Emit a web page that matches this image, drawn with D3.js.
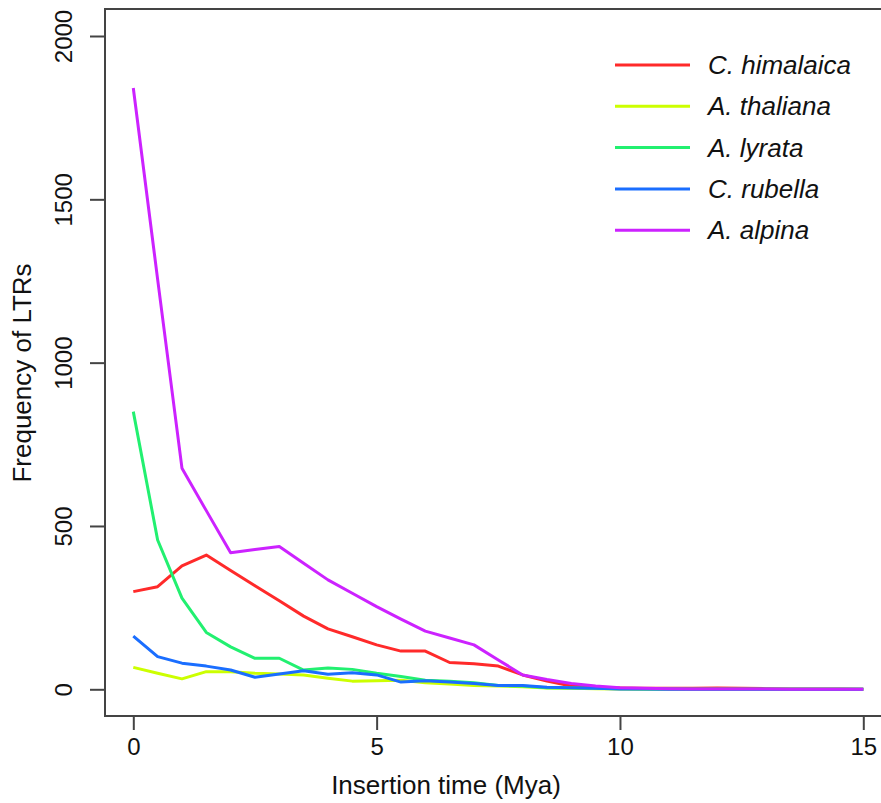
<!DOCTYPE html>
<html>
<head>
<meta charset="utf-8">
<script src="https://cdn.jsdelivr.net/npm/d3@7/dist/d3.min.js"></script>
<style>
  body { margin: 0; background: #fff; }
  svg { display: block; font-family: "Liberation Sans", Arial, sans-serif; }
  .tick text { font-size: 24px; fill: #111; }
  .tick line { stroke: #444; stroke-width: 2; }
</style>
</head>
<body>
<div id="chart"></div>
<script>
// insertion time bins (Mya)
var times = [0,0.5,1,1.5,2,2.5,3,3.5,4,4.5,5,5.5,6,6.5,7,7.5,8,8.5,9,9.5,10,10.5,11,11.5,12,12.5,13,13.5,14,14.5,15];

var species = ["C. himalaica", "A. thaliana", "A. lyrata", "C. rubella", "A. alpina"];
var colors  = ["#ff2a2a", "#ccff00", "#22f070", "#1a6eff", "#cc22ff"];

// LTR counts
var himalaica = [299,314,378,411,364,317,271,224,185,161,136,117,117,82,78,71,44,25,10,6,4,3,3,3,4,3,2,1,1,1,0];
var thaliana  = [67,49,32,54,54,49,47,44,34,25,26,28,20,16,12,10,8,4,3,2,1,0,0,0,0,0,0,0,0,0,0];
var lyrata    = [850,457,279,174,130,95,95,59,65,61,49,39,28,25,20,12,10,5,4,3,2,1,1,0,0,0,0,0,0,0,0];
var rubella   = [163,100,80,71,59,37,47,57,46,51,44,22,26,22,18,12,12,6,5,3,1,1,0,0,0,0,0,0,0,0,0];
var alpina    = [1841,1255,677,547,418,428,437,386,335,294,253,215,178,157,136,90,44,30,18,10,5,3,2,1,1,1,1,0,0,0,0];

var xTicks = [0,5,10,15];
var yTicks = [0,500,1000,1500,2000];

var series = [himalaica, thaliana, lyrata, rubella, alpina];

var width = 881, height = 803;
var box = {left: 105, top: 9, bottom: 716, right: 895};

var svg = d3.select("#chart").append("svg")
    .attr("width", width)
    .attr("height", height);

var x = d3.scaleLinear().domain([0, 15]).range([133.3, 863.3]);
var y = d3.scaleLinear().domain([0, 2000]).range([689.3, 36]);

// frame
svg.append("rect")
    .attr("x", box.left).attr("y", box.top)
    .attr("width", box.right - box.left).attr("height", box.bottom - box.top)
    .attr("fill", "none")
    .attr("stroke", "#444")
    .attr("stroke-width", 2);

// x axis
var gx = svg.append("g")
    .attr("transform", "translate(0," + box.bottom + ")")
    .call(d3.axisBottom(x).tickValues(xTicks).tickSize(14).tickPadding(8).tickFormat(d3.format("d")));
gx.select(".domain").remove();
gx.selectAll(".tick text").attr("dy", "0.72em").attr("y", 22);

// y axis
var gy = svg.append("g")
    .attr("transform", "translate(" + box.left + ",0)")
    .call(d3.axisLeft(y).tickValues(yTicks).tickSize(15).tickFormat(d3.format("d")));
gy.select(".domain").remove();
gy.selectAll(".tick text")
    .attr("x", null).attr("dy", null)
    .attr("text-anchor", "middle")
    .attr("transform", "translate(-33,0) rotate(-90)");

// lines
var line = d3.line()
    .x(function(d, i) { return x(times[i]); })
    .y(function(d) { return y(d); });

series.forEach(function(s, k) {
  svg.append("path")
      .datum(s)
      .attr("fill", "none")
      .attr("stroke", colors[k])
      .attr("stroke-width", 3)
      .attr("stroke-linejoin", "round")
      .attr("d", line);
});

// axis titles
svg.append("text")
    .attr("x", 446).attr("y", 794)
    .attr("text-anchor", "middle")
    .attr("font-size", 26)
    .attr("fill", "#111")
    .text("Insertion time (Mya)");

svg.append("text")
    .attr("transform", "translate(31,373) rotate(-90)")
    .attr("text-anchor", "middle")
    .attr("font-size", 26)
    .attr("fill", "#111")
    .text("Frequency of LTRs");

// legend
var legend = svg.append("g");
species.forEach(function(name, k) {
  var ly = 65 + k * 41.3;
  legend.append("line")
      .attr("x1", 615).attr("x2", 690)
      .attr("y1", ly).attr("y2", ly)
      .attr("stroke", colors[k])
      .attr("stroke-width", 3);
  legend.append("text")
      .attr("x", 708).attr("y", ly)
      .attr("dy", "0.35em")
      .attr("font-size", 26)
      .attr("font-style", "italic")
      .attr("fill", "#111")
      .text(name);
});
</script>
</body>
</html>
